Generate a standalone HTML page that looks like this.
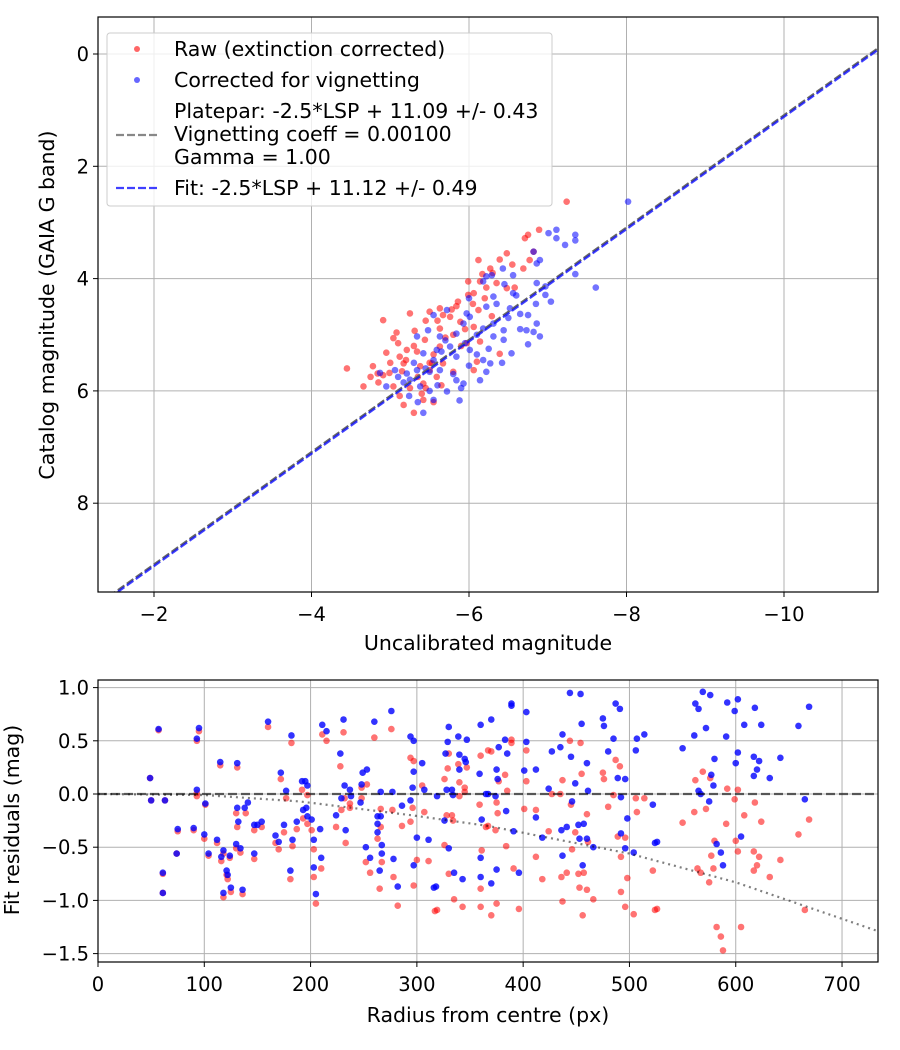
<!DOCTYPE html>
<html><head><meta charset="utf-8"><style>
html,body{margin:0;padding:0;background:#fff;}
svg{display:block;font-family:"DejaVu Sans","Liberation Sans",sans-serif;}
</style></head><body>
<svg id="fig" width="900" height="1050" viewBox="0 0 900 1050" xmlns="http://www.w3.org/2000/svg"></svg>
<script>
// ---- top chart data (uncalibrated magnitude shown as negative values) ----
const rawU=[-7.24,-6.89,-6.75,-6.71,-6.82,-6.77,-6.69,-6.48,-6.39,-6.12,-6.27,-6.17,-5.99,-6.14,-6.22,-6.35,-6.48,-6.58,-6.06,-5.99,-5.84,-5.63,-5.50,-5.25,-5.76,-5.89,-6.06,-6.29,-4.91,-5.08,-5.31,-5.04,-5.63,-5.80,-5.44,-5.21,-4.95,-5.12,-5.34,-5.63,-5.97,-6.14,-6.39,-4.45,-4.78,-4.84,-4.99,-5.17,-5.38,-5.50,-5.42,-5.59,-5.67,-5.80,-6.06,-6.10,-4.66,-5.12,-5.17,-5.30,-5.42,-5.04,-4.91,-5.86,-5.67,-5.53,-6.12,
-5.2,-5.35,-5.45,-5.55,-5.7,-5.9,-5.3,-5.15,-5.6,-5.95,-6.05,-6.2,-5.5,-5.25,-5.4,-4.85,-5.0,-5.65,-6.3,-6.55,-5.78,-5.45,-5.1,-5.55,-4.75];
const rawC=[2.63,3.13,3.22,3.28,3.52,3.67,3.82,3.55,3.66,3.67,3.82,3.92,4.05,4.05,4.16,4.08,4.17,4.16,4.26,4.29,4.49,4.53,4.59,4.62,4.68,4.77,4.86,4.67,4.74,4.96,4.93,5.06,4.89,5.00,5.09,5.27,5.32,5.39,5.30,5.21,5.15,5.12,5.34,5.60,5.56,5.69,5.68,5.51,5.56,5.63,5.87,5.75,5.51,5.66,5.63,5.48,5.92,6.09,6.25,6.39,6.16,5.92,5.72,4.41,4.65,5.51,4.56,
5.45,5.75,5.95,5.35,5.05,5.2,5.2,5.65,4.75,4.9,4.45,4.35,5.5,5.95,6.05,5.85,5.5,5.9,3.9,3.75,4.55,4.75,5.15,6.2,5.75];
const corU=[-8.02,-7.01,-7.11,-7.11,-7.22,-7.35,-7.35,-6.82,-6.90,-6.86,-6.43,-6.29,-6.56,-6.86,-6.97,-7.35,-7.61,-6.97,-7.04,-6.18,-6.31,-6.56,-6.22,-6.52,-6.65,-6.75,-6.86,-6.90,-6.73,-6.82,-6.75,-6.31,-6.44,-6.44,-6.31,-6.54,-6.18,-5.97,-5.93,-5.72,-5.55,-5.48,-5.34,-5.63,-5.84,-5.76,-5.59,-5.42,-5.84,-6.01,-6.18,-6.27,-6.42,-6.22,-6.14,-5.84,-5.93,-5.63,-5.50,-5.34,-5.21,-5.06,-4.87,-4.95,-5.17,-5.38,-5.72,-5.55,-5.24,-5.42,-5.88,-6.01,-6.22,
-5.3,-5.45,-5.55,-5.65,-5.8,-6.0,-6.1,-6.35,-6.5,-6.65,-6.1,-5.9,-5.5,-5.25,-5.7,-6.0,-6.45,-6.6,-5.6,-5.35,-5.1,-6.25,-5.95,-6.85];
const corC=[2.63,3.19,3.13,3.28,3.40,3.22,3.32,3.52,3.67,3.73,3.82,3.94,3.94,4.08,4.14,3.92,4.16,4.29,4.41,4.05,4.32,4.26,4.50,4.53,4.63,4.65,4.80,5.03,4.92,4.95,5.17,4.80,4.92,5.09,5.03,5.33,4.89,4.62,4.80,4.56,4.65,4.92,5.03,5.03,4.98,5.21,5.27,5.33,5.39,5.27,5.45,5.51,5.50,5.66,5.81,5.81,5.87,5.63,5.66,5.63,5.69,5.63,5.68,5.92,5.85,5.92,6.01,6.16,6.09,6.39,6.17,4.68,3.96,
5.5,5.6,5.45,5.3,5.7,5.55,5.0,4.45,4.7,4.9,5.35,5.95,6.0,5.8,5.1,4.35,4.1,4.3,5.9,6.2,5.75,5.25,5.15,4.45];
const plateparOffset=11.09, fitOffset=11.12;
const topXTicks=[-2,-4,-6,-8,-10], topYTicks=[0,2,4,6,8];
// ---- bottom chart data ----
const resBlueR=[57,95,93,49,50,63,93,101,75,90,100,74,61,61,115,131,104,112,118,116,124,121,122,125,118,136,131,141,138,132,130,134,147,150,154,147,160,182,172,177,192,195,197,193,196,197,201,187,175,167,170,183,203,209,210,203,181,205,211,215,231,228,232,237,238,229,247,249,253,248,260,276,266,277,224,233,252,256,263,266,263,263,267,267,265,278,282,286,294,297,297,305,296,307,294,300,311,297,316,318,319,326,330,335,343,327,329,330,339,347,340,345,346,340,328,333,334,359,360,361,360,360,365,370,389,389,403,383,403,377,385,375,376,401,412,367,374,384,412,391,418,375,396,370,444,454,437,427,435,445,455,460,449,424,461,446,436,441,452,457,453,460,466,437,456,487,491,475,476,485,480,507,514,506,489,496,492,522,498,492,496,504,524,526,550,561,562,565,569,576,572,592,602,599,608,591,580,577,579,565,567,575,602,600,618,624,617,622,620,617,632,642,659,669,665,605,582,586,588];
const resBlueV=[0.61,0.62,0.52,0.15,-0.06,-0.06,0.04,-0.09,-0.33,-0.32,-0.38,-0.56,-0.74,-0.93,0.30,0.29,-0.56,-0.43,-0.53,-0.59,-0.58,-0.72,-0.76,-0.88,-0.93,-0.90,-0.13,-0.08,-0.13,-0.26,-0.47,-0.51,-0.29,-0.29,-0.26,-0.56,0.68,0.55,0.20,0.03,0.12,0.12,0.08,-0.15,-0.13,-0.21,-0.24,-0.26,-0.29,-0.39,-0.45,-0.43,-0.43,-0.33,-0.60,-0.69,-0.72,-0.94,0.65,0.59,0.70,0.38,0.08,0.04,-0.02,-0.04,-0.08,0.20,0.23,0.09,0.68,0.78,0.02,0.02,-0.20,-0.34,-0.50,-0.60,-0.21,-0.21,-0.28,-0.36,-0.48,-0.56,-0.72,-0.61,-0.87,-0.11,0.54,0.50,0.21,0.29,0.06,0.04,-0.06,-0.41,-0.43,-0.67,-0.88,-0.87,-0.02,-0.25,-0.51,-0.74,-0.80,0.38,0.49,0.63,0.54,0.51,0.37,0.33,0.30,0.23,0.04,0.04,-0.01,0.19,0.65,-0.24,-0.60,-0.78,0.00,0.70,0.85,0.83,0.77,0.51,0.49,0.44,0.38,0.23,0.14,0.22,0.23,0.00,-0.02,-0.16,-0.22,-0.35,-0.41,-0.71,-0.74,-0.84,0.95,0.94,0.56,0.40,0.44,0.35,0.66,0.29,0.10,0.05,0.03,-0.07,-0.34,-0.31,-0.29,-0.28,-0.42,-0.42,-0.50,-0.58,-0.67,0.85,0.80,0.71,0.64,0.52,0.40,0.52,0.56,0.41,0.15,0.14,-0.03,-0.10,-0.23,-0.37,-0.51,-0.55,-0.46,-0.45,0.43,0.55,0.85,0.80,0.96,0.93,0.62,0.86,0.89,0.78,0.65,0.54,0.33,0.18,0.08,0.03,0.00,-0.07,0.39,0.29,0.81,0.65,0.35,0.31,0.23,0.17,0.15,0.34,0.64,0.82,-0.05,-0.40,-0.47,-0.55,-0.67];
const resRedR=[57,49,50,63,95,93,93,93,101,75,90,100,74,61,61,115,131,104,112,118,116,124,121,122,125,118,136,130,139,131,130,134,147,154,147,160,182,172,177,192,197,193,197,201,187,175,167,170,183,203,210,203,181,205,211,215,231,228,232,237,229,237,248,253,248,260,276,266,277,224,233,252,256,266,263,267,265,278,282,286,294,297,305,296,307,294,300,311,297,317,319,326,329,330,339,347,340,345,345,340,328,333,334,326,330,335,343,360,359,365,361,360,360,367,370,389,389,403,383,403,377,385,375,376,401,412,374,384,412,391,418,375,396,370,367,444,454,437,427,435,445,455,460,449,424,461,446,436,441,452,457,453,460,466,437,456,487,491,475,476,485,480,507,514,506,489,496,492,522,498,492,496,504,524,526,550,561,562,569,576,572,592,602,599,608,591,580,577,564,567,575,602,600,618,624,617,622,620,617,632,642,659,669,665,579,582,586,588,605];
const resRedV=[0.60,0.15,-0.06,-0.06,0.59,0.50,0.01,-0.02,-0.10,-0.35,-0.34,-0.42,-0.56,-0.75,-0.93,0.27,0.25,-0.58,-0.46,-0.56,-0.63,-0.60,-0.76,-0.80,-0.92,-0.97,-0.94,-0.18,-0.18,-0.31,-0.51,-0.55,-0.34,-0.31,-0.61,0.63,0.48,0.14,-0.04,0.04,-0.01,-0.23,-0.28,-0.34,-0.33,-0.36,-0.46,-0.52,-0.49,-0.52,-0.70,-0.78,-0.80,-1.03,0.56,0.50,0.58,0.26,-0.04,-0.09,-0.15,-0.13,-0.04,0.09,0.06,0.53,0.61,-0.14,-0.15,-0.31,-0.46,-0.64,-0.74,-0.31,-0.42,-0.64,-0.89,-0.78,-1.05,-0.30,0.34,0.31,0.08,-0.13,-0.17,-0.26,-0.62,-0.63,-0.86,-1.10,-1.09,0.14,0.24,0.38,0.28,0.25,0.11,0.06,0.02,-0.02,-0.20,-0.20,-0.25,-0.48,-0.75,-0.99,-1.06,0.36,-0.10,-0.31,-0.53,-0.89,-1.06,0.41,0.40,0.51,0.48,0.41,0.18,0.12,0.12,0.03,-0.08,-0.18,-0.14,-0.15,-0.34,-0.49,-0.59,-0.70,-0.80,-1.03,-1.08,-1.14,-0.30,0.50,0.48,0.13,0.00,0.00,-0.10,0.19,-0.19,-0.36,-0.35,-0.45,-0.52,-0.78,-0.74,-0.75,-0.74,-0.88,-0.90,-0.99,-1.01,-1.14,0.32,0.26,0.20,0.14,-0.01,-0.12,-0.17,-0.04,-0.04,-0.40,-0.41,-0.59,-0.72,-0.79,-0.92,-1.06,-1.13,-1.09,-1.08,-0.27,-0.17,0.13,0.21,0.15,-0.14,0.05,0.04,-0.05,-0.20,-0.28,-0.44,-0.58,-0.70,-0.74,-0.83,-0.54,-0.44,-0.08,-0.26,-0.54,-0.59,-0.67,-0.72,-0.78,-0.62,-0.38,-0.24,-1.09,-0.70,-1.25,-1.34,-1.47,-1.25];
const vigR=[0,100,190,295,367,500,600,734];
const vigV=[0,-0.01,-0.07,-0.20,-0.30,-0.56,-0.83,-1.29];
const botXTicks=[0,100,200,300,400,500,600,700];
const botYTicks=[1.0,0.5,0.0,-0.5,-1.0,-1.5];

const NS='http://www.w3.org/2000/svg';
const svg=document.getElementById('fig');
const TICKFS=19.5, TITLEFS=20.5, LEGFS=20.5;
function mk(tag,attrs,parent){const e=document.createElementNS(NS,tag);for(const k in attrs)e.setAttribute(k,attrs[k]);(parent||svg).appendChild(e);return e;}
function fmtNeg(v){return v<0?'\u2212'+Math.abs(v):String(v);}

// ---------- TOP CHART ----------
const T={l:98,r:878,t:17,b:592};
const tx=v=>154+(-2-v)*78.75;
const ty=c=>54+c*56.15;
const gTop=mk('g',{});


mk('defs',{}).innerHTML='<clipPath id="cTop"><rect x="98" y="17" width="780" height="575"/></clipPath><clipPath id="cBot"><rect x="98" y="680" width="780" height="282"/></clipPath>';
topXTicks.forEach(v=>{const x=tx(v);
 const l=mk('line',{x1:x,x2:x,y1:T.t,y2:T.b,stroke:'#b0b0b0','stroke-width':1},gTop);
 
 mk('line',{x1:x,x2:x,y1:T.b,y2:T.b+5,stroke:'#000'},gTop);
 const t=mk('text',{x:x,y:T.b+29,'font-size':TICKFS,'text-anchor':'middle'},gTop);t.textContent=fmtNeg(v);
 });
topYTicks.forEach(c=>{const y=ty(c);
 const l=mk('line',{x1:T.l,x2:T.r,y1:y,y2:y,stroke:'#b0b0b0','stroke-width':1},gTop);
 
 mk('line',{x1:T.l-5,x2:T.l,y1:y,y2:y,stroke:'#000'},gTop);
 const t=mk('text',{x:T.l-9,y:y+7,'font-size':TICKFS,'text-anchor':'end'},gTop);t.textContent=String(c);
 });
const gTopData=mk('g',{'clip-path':'url(#cTop)'},gTop);
rawU.forEach((u,i)=>{const c=mk('circle',{cx:tx(u),cy:ty(rawC[i]),r:3.3,fill:'rgba(255,0,0,0.55)'},gTopData);
 });
corU.forEach((u,i)=>{const c=mk('circle',{cx:tx(u),cy:ty(corC[i]),r:3.3,fill:'rgba(0,0,255,0.55)'},gTopData);
 });
const lx1=-1.2,lx2=-11.5;
let pl=mk('line',{x1:tx(lx1),y1:ty(lx1+plateparOffset),x2:tx(lx2),y2:ty(lx2+plateparOffset),stroke:'#666',"stroke-width":2.2,'stroke-dasharray':'8,3'},gTopData);

let fl=mk('line',{x1:tx(lx1),y1:ty(lx1+fitOffset),x2:tx(lx2),y2:ty(lx2+fitOffset),stroke:'rgba(0,0,255,0.75)',"stroke-width":2.2,'stroke-dasharray':'8,3'},gTopData);

mk('rect',{x:T.l,y:T.t,width:T.r-T.l,height:T.b-T.t,fill:'none',stroke:'#000','stroke-width':1.2},gTop);
let xl=mk('text',{x:488,y:650,'font-size':TITLEFS,'text-anchor':'middle'},gTop);xl.textContent='Uncalibrated magnitude';

let yl=mk('text',{x:0,y:0,'font-size':TITLEFS,'text-anchor':'middle',transform:'translate(54,305) rotate(-90)'},gTop);yl.textContent='Catalog magnitude (GAIA G band)';


// legend
const lg=mk('g',{},gTop);

mk('rect',{x:107,y:33,width:445,height:173,rx:3,fill:'rgba(255,255,255,0.8)',stroke:'#ccc'},lg);
mk('circle',{cx:137,cy:49,r:3,fill:'rgba(255,0,0,0.6)'},lg);
mk('circle',{cx:137,cy:80,r:3,fill:'rgba(0,0,255,0.6)'},lg);
mk('line',{x1:116,x2:158,y1:135,y2:135,stroke:'#888','stroke-width':2.2,'stroke-dasharray':'8,3'},lg);
mk('line',{x1:116,x2:158,y1:188,y2:188,stroke:'rgba(0,0,255,0.75)','stroke-width':2.2,'stroke-dasharray':'8,3'},lg);
[['Raw (extinction corrected)',56,'legend-entry-raw'],['Corrected for vignetting',87,'legend-entry-corrected'],['Platepar: -2.5*LSP + 11.09 +/- 0.43',118,'legend-entry-platepar'],['Vignetting coeff = 0.00100',141,'legend-entry-vignetting'],['Gamma = 1.00',164,'legend-entry-gamma'],['Fit: -2.5*LSP + 11.12 +/- 0.49',195,'legend-entry-fit']].forEach(a=>{
 const t=mk('text',{x:174,y:a[1],'font-size':LEGFS},lg);t.textContent=a[0];
 });

// ---------- BOTTOM CHART ----------
const B={l:98,r:878,t:680,b:962};
const bx=r=>98+r*1.0629;
const by=v=>794-v*106.4;
const gBot=mk('g',{});


botXTicks.forEach(r=>{const x=bx(r);
 const l=mk('line',{x1:x,x2:x,y1:B.t,y2:B.b,stroke:'#b0b0b0','stroke-width':1},gBot);
 
 mk('line',{x1:x,x2:x,y1:B.b,y2:B.b+5,stroke:'#000'},gBot);
 const t=mk('text',{x:x,y:B.b+29,'font-size':TICKFS,'text-anchor':'middle'},gBot);t.textContent=String(r);
 });
botYTicks.forEach(v=>{const y=by(v);
 const l=mk('line',{x1:B.l,x2:B.r,y1:y,y2:y,stroke:'#b0b0b0','stroke-width':1},gBot);
 
 mk('line',{x1:B.l-5,x2:B.l,y1:y,y2:y,stroke:'#000'},gBot);
 const t=mk('text',{x:B.l-9,y:y+7,'font-size':TICKFS,'text-anchor':'end'},gBot);
 t.textContent=(v<0?'\u2212':'')+Math.abs(v).toFixed(1);
 });
const gBotData=mk('g',{'clip-path':'url(#cBot)'},gBot);
resRedR.forEach((r,i)=>{const c=mk('circle',{cx:bx(r),cy:by(resRedV[i]),r:3.3,fill:'rgba(255,0,0,0.55)'},gBotData);
 });
resBlueR.forEach((r,i)=>{const c=mk('circle',{cx:bx(r),cy:by(resBlueV[i]),r:3.3,fill:'rgba(0,0,255,0.8)'},gBotData);
 });
let zl=mk('line',{x1:B.l,x2:B.r,y1:by(0),y2:by(0),stroke:'rgba(0,0,0,0.6)','stroke-width':2.2,'stroke-dasharray':'9,4'},gBotData);

let vp=mk('polyline',{points:vigR.map((r,i)=>bx(r)+','+by(vigV[i])).join(' '),fill:'none',stroke:'rgba(0,0,0,0.5)','stroke-width':2.2,'stroke-dasharray':'2,4'},gBotData);

mk('rect',{x:B.l,y:B.t,width:B.r-B.l,height:B.b-B.t,fill:'none',stroke:'#000','stroke-width':1.2},gBot);
let bxl=mk('text',{x:488,y:1022,'font-size':TITLEFS,'text-anchor':'middle'},gBot);bxl.textContent='Radius from centre (px)';

let byl=mk('text',{x:0,y:0,'font-size':TITLEFS,'text-anchor':'middle',transform:'translate(19,820) rotate(-90)'},gBot);byl.textContent='Fit residuals (mag)';

</script>
</body></html>
